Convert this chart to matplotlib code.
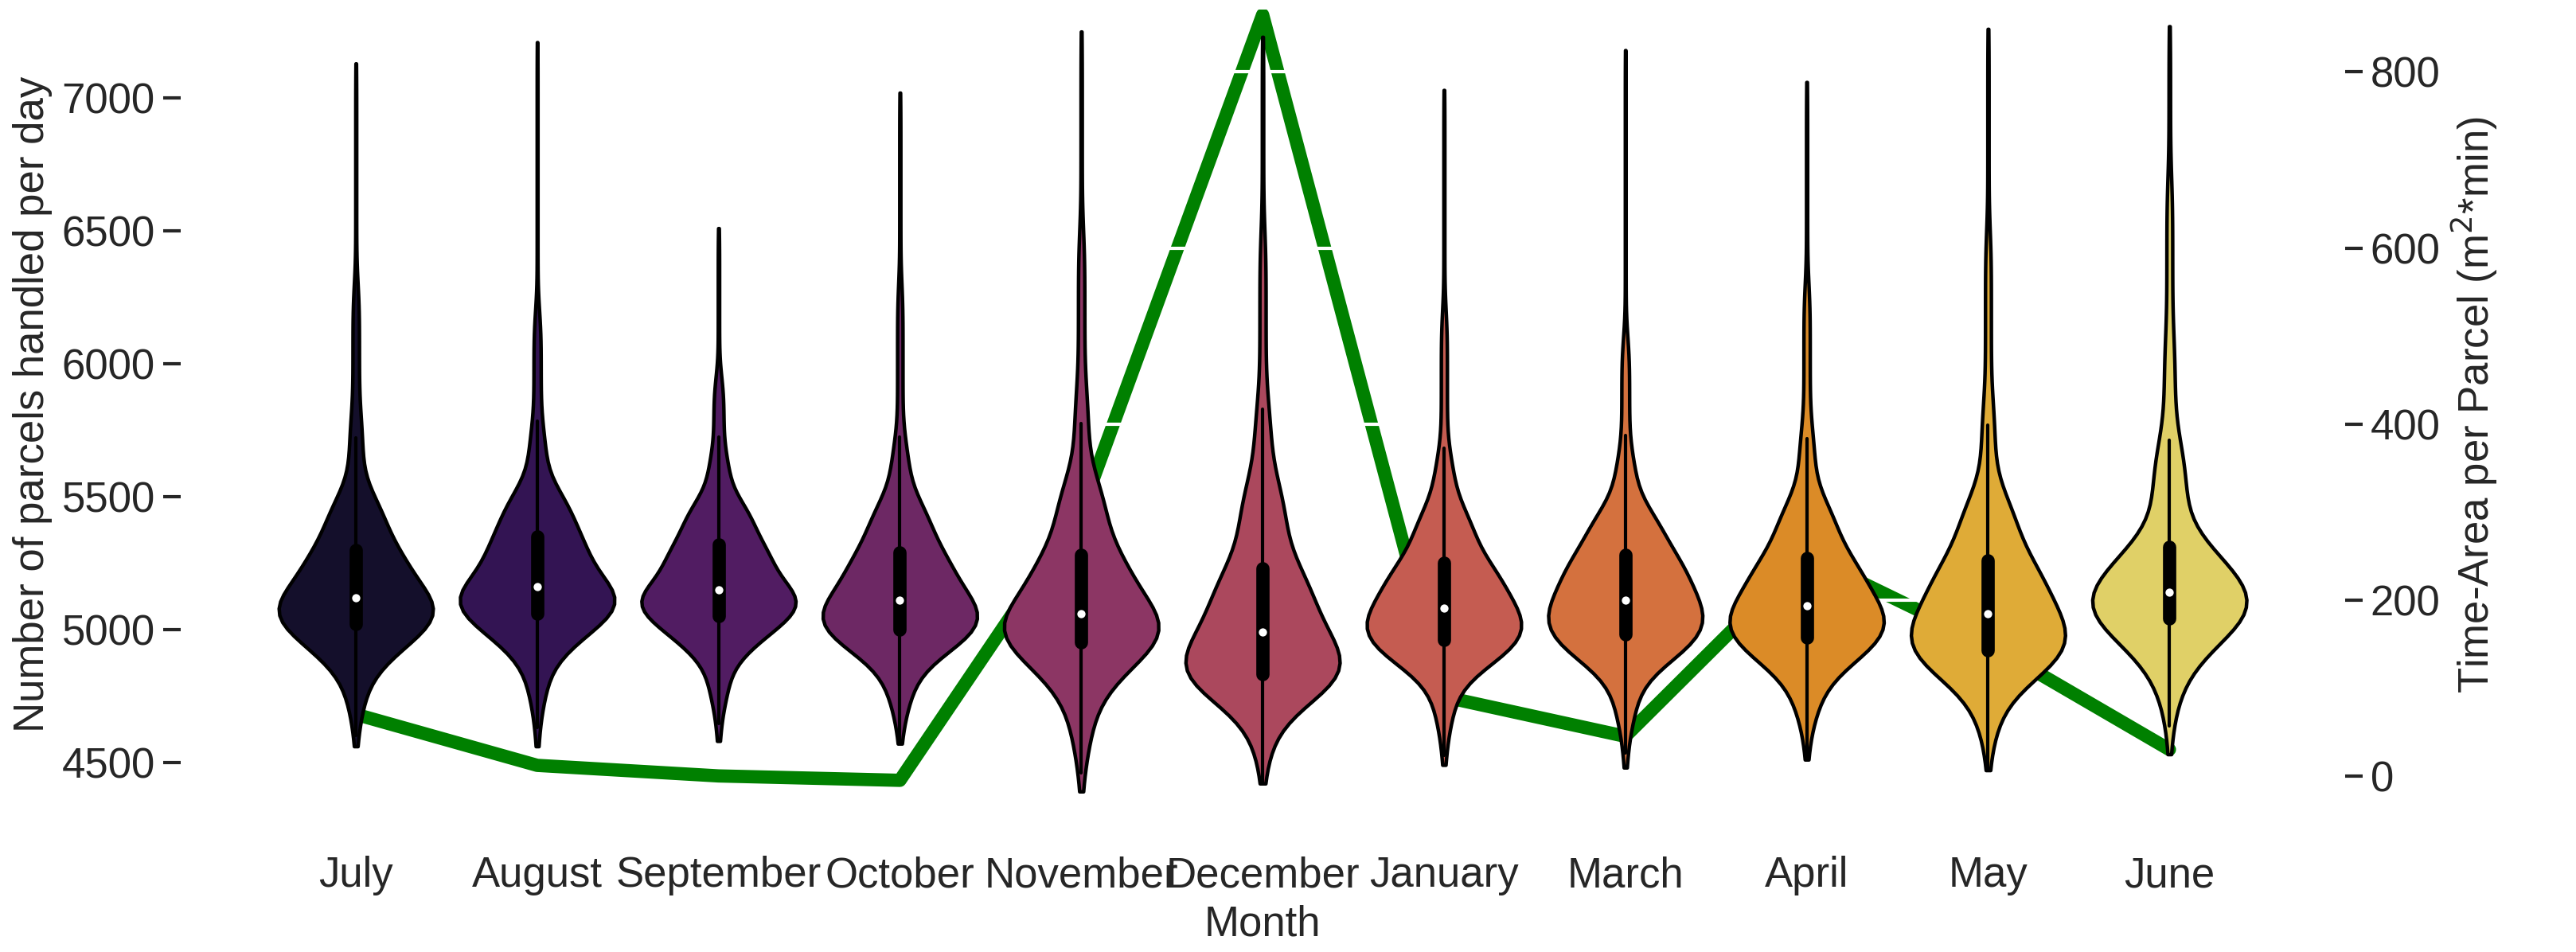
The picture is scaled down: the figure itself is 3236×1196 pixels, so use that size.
import numpy as np, pandas as pd, matplotlib
matplotlib.use("Agg")
import matplotlib.pyplot as plt, seaborn as sns

months = ["July","August","September","October","November","December","January","March","April","May","June"]
pct_levels = [0,1,5,10,25,50,75,90,95,99,100]
q_july = [4560,4700,4850,4920,5020,5120,5300,5500,5800,6300,7130]
q_aug  = [4560,4720,4880,4960,5060,5160,5350,5520,5750,6200,7210]
q_sep  = [4580,4720,4870,4950,5050,5150,5320,5480,5650,5950,6510]
q_oct  = [4570,4700,4830,4920,5000,5110,5290,5480,5700,6300,7020]
q_nov  = [4390,4550,4720,4830,4950,5060,5280,5560,5900,6500,7250]
q_dec  = [4420,4560,4700,4780,4830,4990,5230,5550,5850,6500,7230]
q_jan  = [4490,4640,4800,4880,4960,5080,5250,5450,5650,6200,7030]
q_mar  = [4480,4640,4800,4890,4980,5110,5280,5450,5650,6100,7180]
q_apr  = [4510,4660,4790,4880,4970,5090,5270,5480,5750,6300,7060]
q_may  = [4470,4620,4760,4840,4920,5060,5260,5500,5850,6500,7260]
q_jun  = [4530,4700,4850,4930,5040,5140,5310,5700,6100,6700,7270]
quantiles = [q_july,q_aug,q_sep,q_oct,q_nov,q_dec,q_jan,q_mar,q_apr,q_may,q_jun]
time_area = [70,12,0,-5,300,865,90,45,250,150,30]

sns.set_style("white")
plt.rcParams['font.family'] = ['Liberation Sans','DejaVu Sans']
plt.rcParams['font.size'] = 19

rows = []
lv = np.linspace(0,1,3000)
for m,q in zip(months,quantiles):
    vals = np.interp(lv, np.array(pct_levels)/100, q)
    rows += [(m,v) for v in vals]
df = pd.DataFrame(rows, columns=["Month","Parcels"])

fig, ax = plt.subplots(figsize=(16.185,5.98), dpi=200)
ax2 = ax.twinx()
ax.set_zorder(ax2.get_zorder()+1)
ax.patch.set_visible(False)

sns.violinplot(data=df, x="Month", y="Parcels", order=months, palette="inferno",
               hue="Month", legend=False, cut=0, inner="box", linecolor="black",
               linewidth=1.6, width=0.85, bw_adjust=1.3, ax=ax,
               inner_kws=dict(box_width=6, whis_width=1.5, marker="."))
ax.set_ylim(4359,7333)
ax.set_ylabel("Number of parcels handled per day")
ax.set_xlabel("Month")
for s in ax.spines.values(): s.set_visible(False)
ax.tick_params(axis='y', length=8, width=1.5, left=True)
ax.tick_params(axis='x', pad=22)

ax2.plot(range(len(months)), time_area, color="green", lw=6, zorder=2)
for h in [200,400,600,800]:
    ax2.axhline(h, color="white", lw=1.5, zorder=3)
ax2.set_ylim(-27,871)
ax2.set_yticks([0,200,400,600,800])
ax2.set_ylabel("Time-Area per Parcel (m$^2$*min)")
for s in ax2.spines.values(): s.set_visible(False)
ax2.tick_params(axis='y', length=8, width=1.5, right=True)
fig.subplots_adjust(left=0.07, right=0.91, top=0.99, bottom=0.16)
fig.savefig("out.png")
